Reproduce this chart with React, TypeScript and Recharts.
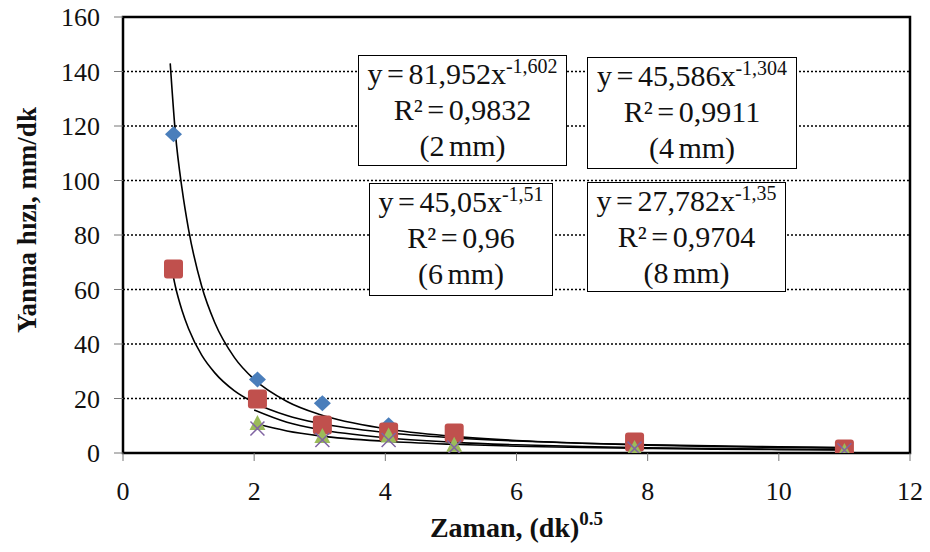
import React from 'react';
import {
	ComposedChart,
	Scatter,
	Line,
	XAxis,
	YAxis,
	CartesianGrid,
	ReferenceArea,
} from 'recharts';

// measured points, x = (dk)^0.5
const mm2 = [
	{ x: 0.77, y: 117 },
	{ x: 2.05, y: 27 },
	{ x: 3.04, y: 18.3 },
	{ x: 4.05, y: 10.2 },
	{ x: 5.05, y: 7 },
	{ x: 7.8, y: 3.2 },
	{ x: 11, y: 1.6 },
];
const mm4 = [
	{ x: 0.77, y: 67.5 },
	{ x: 2.05, y: 19.8 },
	{ x: 3.04, y: 10.3 },
	{ x: 4.05, y: 7.7 },
	{ x: 5.05, y: 7.3 },
	{ x: 7.8, y: 4 },
	{ x: 11, y: 1.5 },
];
const mm6 = [
	{ x: 2.05, y: 11 },
	{ x: 3.04, y: 6.2 },
	{ x: 4.05, y: 6.4 },
	{ x: 5.05, y: 3 },
	{ x: 7.8, y: 1.8 },
	{ x: 11, y: 0.7 },
];
const mm8 = [
	{ x: 2.05, y: 9 },
	{ x: 3.04, y: 4.8 },
	{ x: 4.05, y: 4.8 },
	{ x: 5.05, y: 2 },
	{ x: 7.8, y: 1.6 },
	{ x: 11, y: 1 },
];

// trend curves
const trend2 = [
	{ x: 0.72, y: 143 }, { x: 0.8, y: 117 }, { x: 0.9, y: 97 }, { x: 1, y: 82 },
	{ x: 1.2, y: 61.2 }, { x: 1.4, y: 47.8 }, { x: 1.7, y: 35 }, { x: 2, y: 27 },
	{ x: 2.5, y: 18.9 }, { x: 3, y: 14.1 }, { x: 4, y: 8.9 }, { x: 5, y: 6.2 },
	{ x: 6, y: 4.6 }, { x: 7, y: 3.6 }, { x: 8, y: 2.9 }, { x: 9, y: 2.4 },
	{ x: 10, y: 2.05 }, { x: 11, y: 1.76 },
];
const trend4 = [
	{ x: 0.72, y: 70.5 }, { x: 0.8, y: 61 }, { x: 0.9, y: 52.3 }, { x: 1, y: 45.6 },
	{ x: 1.2, y: 35.9 }, { x: 1.4, y: 29.4 }, { x: 1.7, y: 22.8 }, { x: 2, y: 18.5 },
	{ x: 2.5, y: 13.8 }, { x: 3, y: 10.9 }, { x: 4, y: 7.5 }, { x: 5, y: 5.6 },
	{ x: 6, y: 4.4 }, { x: 7, y: 3.6 }, { x: 8, y: 3 }, { x: 9, y: 2.6 },
	{ x: 10, y: 2.3 }, { x: 11, y: 2 },
];
const trend6 = [
	{ x: 2, y: 15.8 }, { x: 2.5, y: 11.3 }, { x: 3, y: 8.6 }, { x: 4, y: 5.6 },
	{ x: 5, y: 4 }, { x: 6, y: 3 }, { x: 7, y: 2.4 }, { x: 8, y: 1.95 },
	{ x: 9, y: 1.63 }, { x: 10, y: 1.39 }, { x: 11, y: 1.2 },
];
const trend8 = [
	{ x: 2, y: 10.9 }, { x: 2.5, y: 8.1 }, { x: 3, y: 6.3 }, { x: 4, y: 4.3 },
	{ x: 5, y: 3.2 }, { x: 6, y: 2.5 }, { x: 7, y: 2 }, { x: 8, y: 1.7 },
	{ x: 9, y: 1.43 }, { x: 10, y: 1.24 }, { x: 11, y: 1.09 },
];

const xTicks = [0, 2, 4, 6, 8, 10, 12];
const yTicks = [0, 20, 40, 60, 80, 100, 120, 140, 160];

const equations = [
	{ eq: '81,952x', exp: '-1,602', r2: '0,9832', size: '(2 mm)', box: [358, 55, 209, 111] },
	{ eq: '45,586x', exp: '-1,304', r2: '0,9911', size: '(4 mm)', box: [587, 57, 210, 112] },
	{ eq: '45,05x', exp: '-1,51', r2: '0,96', size: '(6 mm)', box: [369, 183, 184, 113] },
	{ eq: '27,782x', exp: '-1,35', r2: '0,9704', size: '(8 mm)', box: [587, 182, 199, 110] },
];

const FONT = '"Liberation Serif", "Times New Roman", serif';

const Diamond = (p: any) => (
	<path
		d={`M${p.cx},${p.cy - 8} L${p.cx + 8.5},${p.cy} L${p.cx},${p.cy + 8} L${p.cx - 8.5},${p.cy} Z`}
		fill='#4a7ebb'
	/>
);
const Square = (p: any) => (
	<rect x={p.cx - 9.5} y={p.cy - 9.5} width={19} height={19} rx={3} fill='#c0504d' />
);
const Triangle = (p: any) => (
	<path
		d={`M${p.cx},${p.cy - 8} L${p.cx + 8},${p.cy + 7} L${p.cx - 8},${p.cy + 7} Z`}
		fill='#9bbb59'
	/>
);
const Cross = (p: any) => (
	<path
		d={`M${p.cx - 7},${p.cy - 7} L${p.cx + 7},${p.cy + 7} M${p.cx - 7},${p.cy + 7} L${p.cx + 7},${p.cy - 7}`}
		stroke='#8064a2'
		strokeWidth={1.5}
		fill='none'
	/>
);

const XTitle = (props: any) => {
	const vb = props.viewBox || {};
	return (
		<text
			x={vb.x + vb.width / 2}
			y={537}
			textAnchor='middle'
			fontFamily={FONT}
			fontWeight='bold'
			fontSize={28}
			fill='#111'
		>
			Zaman, (dk)
			<tspan fontSize={19} dy={-12}>0.5</tspan>
		</text>
	);
};

const YTitle = () => (
	<text
		x={27}
		y={220}
		transform='rotate(-90, 27, 220)'
		textAnchor='middle'
		dominantBaseline='central'
		fontFamily={FONT}
		fontWeight='bold'
		fontSize={27}
		fill='#111'
	>
		Yanma hızı, mm/dk
	</text>
);

const tickStyle = { fontFamily: FONT, fontSize: 26, fill: '#111' };

export default function App() {
	return (
		<div style={{ position: 'relative', width: 930, height: 552, margin: -8, background: '#fff' }}>
			<ComposedChart
				width={930}
				height={552}
				margin={{ top: 17, right: 20, bottom: 0, left: 0 }}
			>
				<CartesianGrid
					vertical={false}
					stroke='#000'
					strokeWidth={1.5}
					strokeDasharray='2 2'
				/>
				<XAxis
					type='number'
					dataKey='x'
					domain={[0, 12]}
					ticks={xTicks}
					allowDataOverflow
					height={99}
					axisLine={false}
					tickLine={{ stroke: '#777' }}
					tickSize={8}
					tickMargin={21}
					tick={tickStyle}
					label={<XTitle />}
				/>
				<YAxis
					type='number'
					dataKey='y'
					domain={[0, 160]}
					ticks={yTicks}
					allowDataOverflow
					width={123}
					axisLine={false}
					tickLine={{ stroke: '#777' }}
					tickSize={9}
					tickMargin={14}
					tick={tickStyle}
					label={<YTitle />}
				/>
				<ReferenceArea
					x1={0}
					x2={12}
					y1={0}
					y2={160}
					fill='none'
					stroke='#000'
					strokeWidth={2.5}
					ifOverflow='visible'
				/>
				<Scatter data={mm2} shape={Diamond} isAnimationActive={false} />
				<Scatter data={mm4} shape={Square} isAnimationActive={false} />
				<Scatter data={mm6} shape={Triangle} isAnimationActive={false} />
				<Scatter data={mm8} shape={Cross} isAnimationActive={false} />
				{[trend2, trend4, trend6, trend8].map((t, i) => (
					<Line
						key={i}
						data={t}
						dataKey='y'
						type='monotone'
						stroke='#000'
						strokeWidth={1.6}
						dot={false}
						activeDot={false}
						isAnimationActive={false}
					/>
				))}
			</ComposedChart>
			{equations.map((e, i) => (
				<div
					key={i}
					style={{
						position: 'absolute',
						left: e.box[0],
						top: e.box[1],
						width: e.box[2],
						height: e.box[3],
						boxSizing: 'border-box',
						border: '1.5px solid #000',
						background: '#fff',
						fontFamily: FONT,
						fontSize: 30,
						wordSpacing: -3,
						lineHeight: '36px',
						textAlign: 'center',
						color: '#111',
						whiteSpace: 'nowrap',
					}}
				>
					<div>
						y = {e.eq}
						<sup style={{ fontSize: 20, lineHeight: 0, verticalAlign: 11 }}>{e.exp}</sup>
					</div>
					<div>R² = {e.r2}</div>
					<div>{e.size}</div>
				</div>
			))}
		</div>
	);
}
